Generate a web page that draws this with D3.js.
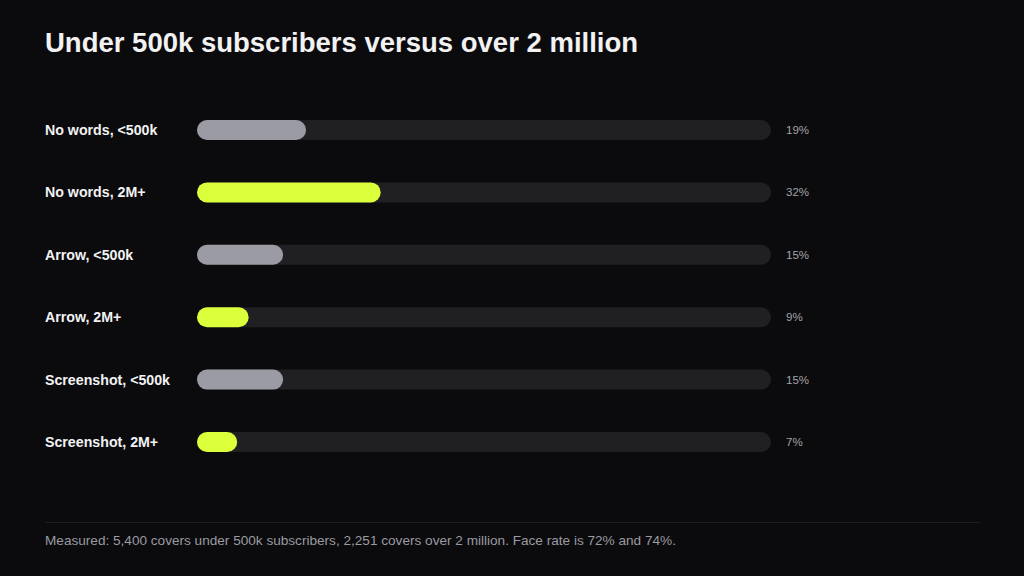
<!DOCTYPE html>
<html><head><meta charset="utf-8">
<script src="https://cdn.jsdelivr.net/npm/d3@7"></script>
<style>html,body{margin:0;padding:0;background:#0b0b0e;}svg{display:block;font-family:"Liberation Sans",Arial,sans-serif;}</style>
</head><body>
<svg id="c" width="1024" height="576"></svg>
<script>
const categories = ["No words, <500k","No words, 2M+","Arrow, <500k","Arrow, 2M+","Screenshot, <500k","Screenshot, 2M+"];
const values = [19,32,15,9,15,7];
const groups = ["small","big","small","big","small","big"];
const valueLabels = ["19%","32%","15%","9%","15%","7%"];

const svg = d3.select("#c");
svg.append("rect").attr("width",1024).attr("height",576).attr("fill","#0b0b0e");
svg.append("text").attr("x",45).attr("y",52).attr("fill","#f2f2f2")
  .attr("font-size",27.5).attr("font-weight","bold").text("Under 500k subscribers versus over 2 million");

const x = d3.scaleLinear().domain([0,100]).range([197,771]);
const y = d3.scalePoint().domain(categories).range([130,442]);
const bh = 20;
const colors = {small:"#9b9ba5", big:"#dbff3b"};

const g = svg.append("g");
categories.forEach((c,i)=>{
  const cy = y(c);
  g.append("rect").attr("x",x(0)).attr("y",cy-bh/2).attr("width",x(100)-x(0)).attr("height",bh)
    .attr("rx",10).attr("fill","#202022");
  g.append("rect").attr("x",x(0)).attr("y",cy-bh/2).attr("width",x(values[i])-x(0)).attr("height",bh)
    .attr("rx",10).attr("fill",colors[groups[i]]);
  g.append("text").attr("x",45).attr("y",cy).attr("dy","0.35em").attr("fill","#f2f2f2")
    .attr("font-size",14.2).attr("font-weight","bold").text(c);
  g.append("text").attr("x",786).attr("y",cy).attr("dy","0.35em").attr("fill","#a3a3a6")
    .attr("font-size",11.5).text(valueLabels[i]);
});

svg.append("line").attr("x1",45).attr("x2",980).attr("y1",522.5).attr("y2",522.5).attr("stroke","#1e1e21");
svg.append("text").attr("x",45).attr("y",544.5).attr("fill","#9a9aa0").attr("font-size",13.6)
  .text("Measured: 5,400 covers under 500k subscribers, 2,251 covers over 2 million. Face rate is 72% and 74%.");
</script>
</body></html>
